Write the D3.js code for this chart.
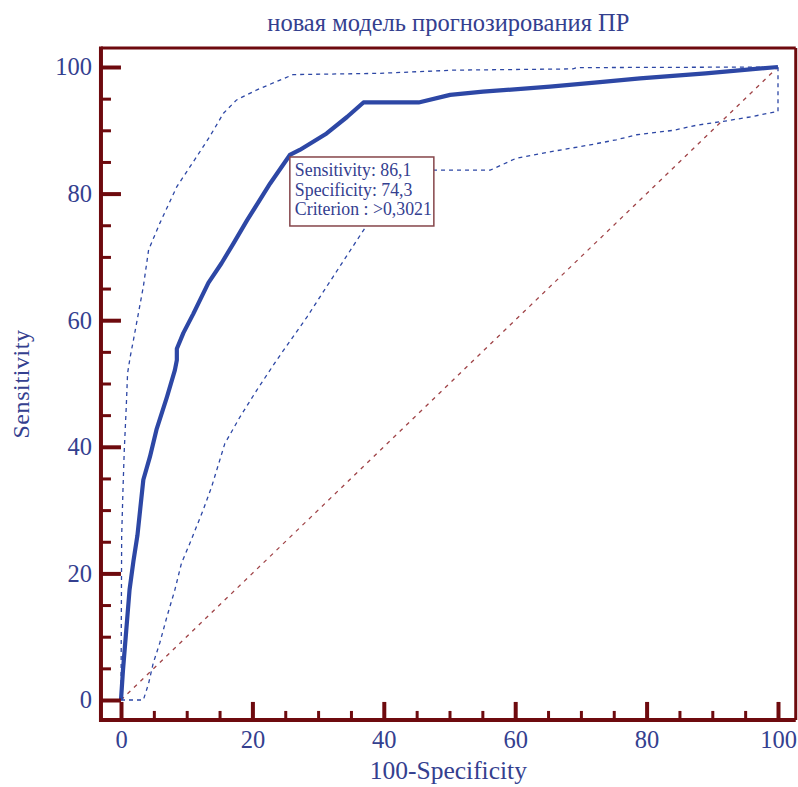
<!DOCTYPE html>
<html>
<head>
<meta charset="utf-8">
<script src="https://cdn.jsdelivr.net/npm/d3@7"></script>
<style>
  body { margin: 0; background: #fff; }
  svg text { font-family: "Liberation Serif", "DejaVu Serif", serif; fill: #34408f; }
</style>
</head>
<body>
<svg width="798" height="787"></svg>
<script>
// ROC curve: [100-Specificity, Sensitivity]
var rocPoints = [[0,0],[0.3,4.7],[0.8,11],[1.3,17.4],[1.9,22],[2.5,26],[3.4,34.8],[4.4,38.4],
  [5.4,42.7],[7,47.9],[8.2,52.1],[8.5,53.7],[8.5,55.5],[9.5,58],[11,61],[13.3,65.9],[15.3,69],
  [17.1,72.1],[19.2,75.8],[22.7,81.6],[25.7,86.1],[27.2,86.9],[31.3,89.5],[34.4,92.1],[36.9,94.4],
  [45.3,94.4],[50.1,95.6],[55.1,96.1],[65.3,96.9],[72.9,97.6],[79,98.2],[89,99],[100,100]];

// upper and lower confidence bounds (dashed)
var upperCI = [[0,0],[0.1,25.8],[0.3,33.2],[0.5,39.5],[0.8,46.3],[1,51.6],[1.4,54.2],[1.9,56.9],
  [3.4,65.3],[4.2,71.1],[5.9,75.3],[8.5,81.1],[11.5,85.8],[13.5,89],[15.6,92.7],[17.6,94.8],
  [20.7,96.4],[26.2,98.8],[39.4,99],[50.6,99.5],[68.8,99.7],[69.4,99.9],[100,100]];
var lowerCI = [[0,0],[3.4,0],[4.2,2.6],[4.9,5.8],[5.9,9],[7,13.2],[8.2,17.4],[9.2,21.6],[10.5,24.8],
  [12.5,30],[13.8,33.7],[15.8,40.5],[18.1,44.7],[20.7,49],[23.7,53.7],[28.3,60.5],[32.3,66.9],
  [36.9,74.2],[40,79],[43,83.7],[47.5,83.7],[56.2,83.7],[60.2,85.6],[65.3,86.6],[71.4,87.7],
  [75.4,88.5],[78.5,89.3],[84.1,90],[87.6,90.8],[92.2,91.5],[95.7,92.1],[100,93],[100,100]];

var diagonal = [[0,0],[100,100]];

var majorTicks = [0, 20, 40, 60, 80, 100];
var minorTicks = [5,10,15,25,30,35,45,50,55,65,70,75,85,90,95];

var tipLines = ["Sensitivity: 86,1", "Specificity: 74,3", "Criterion : >0,3021"];
var tipPoint = [25.7, 86.1];

var titleText = "новая модель прогнозирования ПР";
var xLabel = "100-Specificity";
var yLabel = "Sensitivity";

var axisColor = "#6e0a0e";
var lineColor = "#2d47a5";

var svg = d3.select('svg');

var x = d3.scaleLinear().domain([0, 100]).range([121, 778]);
var y = d3.scaleLinear().domain([0, 100]).range([700, 67]);

// frame edges (a bit outside the 0-100 range, like the original)
var frameL = x(-3.05), frameR = x(102.7), frameT = y(103), frameB = y(-3.15);

var line = d3.line()
  .x(function(d) { return x(d[0]); })
  .y(function(d) { return y(d[1]); });

// diagonal reference
svg.append('path')
  .datum(diagonal)
  .attr('d', line)
  .attr('fill', 'none')
  .attr('stroke', '#a04448')
  .attr('stroke-width', 1.3)
  .attr('stroke-dasharray', '4,5');

// confidence bounds
svg.selectAll('.ci')
  .data([upperCI, lowerCI])
  .enter().append('path')
  .attr('class', 'ci')
  .attr('d', line)
  .attr('fill', 'none')
  .attr('stroke', lineColor)
  .attr('stroke-width', 1.3)
  .attr('stroke-dasharray', '4,4');

// roc curve
svg.append('path')
  .datum(rocPoints)
  .attr('d', line)
  .attr('fill', 'none')
  .attr('stroke', lineColor)
  .attr('stroke-width', 4.2)
  .attr('stroke-linejoin', 'round');

// tooltip box
var tip = svg.append('g')
  .attr('transform', 'translate(' + x(tipPoint[0]) + ',' + (y(tipPoint[1]) + 2) + ')');
tip.append('rect')
  .attr('width', 144).attr('height', 69)
  .attr('fill', '#fff')
  .attr('stroke', '#85454a')
  .attr('stroke-width', 1.5);
tip.selectAll('text')
  .data(tipLines)
  .enter().append('text')
  .attr('x', 5)
  .attr('y', function(d, i) { return 19.5 + i * 19.5; })
  .style('font-size', '17.8px')
  .text(function(d) { return d; });

// frame: top and right borders
svg.append('line')
  .attr('x1', frameL).attr('x2', frameR).attr('y1', frameT).attr('y2', frameT)
  .attr('stroke', axisColor).attr('stroke-width', 3);
svg.append('line')
  .attr('x1', frameR).attr('x2', frameR).attr('y1', frameT).attr('y2', frameB)
  .attr('stroke', axisColor).attr('stroke-width', 3);

// axes
var xAxis = svg.append('g').attr('transform', 'translate(0,' + frameB + ')')
  .call(d3.axisBottom(x).tickValues(majorTicks).tickSize(-18).tickPadding(11).tickSizeOuter(0));
var xMinor = svg.append('g').attr('transform', 'translate(0,' + frameB + ')')
  .call(d3.axisBottom(x).tickValues(minorTicks).tickSize(-9).tickFormat('').tickSizeOuter(0));
var yAxis = svg.append('g').attr('transform', 'translate(' + frameL + ',0)')
  .call(d3.axisLeft(y).tickValues(majorTicks).tickSize(-20).tickPadding(9).tickSizeOuter(0));
var yMinor = svg.append('g').attr('transform', 'translate(' + frameL + ',0)')
  .call(d3.axisLeft(y).tickValues(minorTicks).tickSize(-10).tickFormat('').tickSizeOuter(0));

[xAxis, xMinor, yAxis, yMinor].forEach(function(g) {
  g.select('.domain').remove();
  g.selectAll('text').style('font-size', '24.5px').attr('fill', '#34408f').attr('font-family', null);
});
xAxis.selectAll('line').attr('stroke', axisColor).attr('stroke-width', 4);
yAxis.selectAll('line').attr('stroke', axisColor).attr('stroke-width', 4);
xMinor.selectAll('line').attr('stroke', axisColor).attr('stroke-width', 3);
yMinor.selectAll('line').attr('stroke', axisColor).attr('stroke-width', 3);

// axis lines
svg.append('line')
  .attr('x1', frameL).attr('x2', frameR).attr('y1', frameB).attr('y2', frameB)
  .attr('stroke', axisColor).attr('stroke-width', 4);
svg.append('line')
  .attr('x1', frameL).attr('x2', frameL).attr('y1', frameT - 1.5).attr('y2', frameB + 2)
  .attr('stroke', axisColor).attr('stroke-width', 4);

// labels
svg.append('text')
  .attr('x', (frameL + frameR) / 2).attr('y', 31)
  .attr('text-anchor', 'middle')
  .style('font-size', '24.5px')
  .text(titleText);
svg.append('text')
  .attr('x', (frameL + frameR) / 2).attr('y', 779)
  .attr('text-anchor', 'middle')
  .style('font-size', '25.5px')
  .text(xLabel);
svg.append('text')
  .attr('transform', 'translate(29,' + (frameT + frameB) / 2 + ') rotate(-90)')
  .attr('text-anchor', 'middle')
  .style('font-size', '24px')
  .style('letter-spacing', '0.6px')
  .text(yLabel);
</script>
</body>
</html>
